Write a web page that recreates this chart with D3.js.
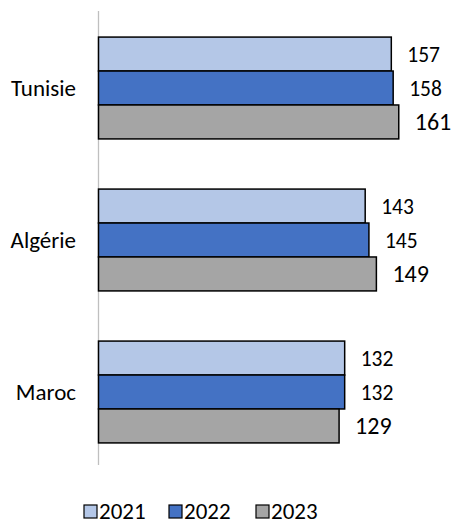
<!DOCTYPE html><html><head><meta charset="UTF-8"><script src="https://d3js.org/d3.v7.min.js"></script><style>
            body { margin: 0; background: #fff; }
            #chart { width: 457px; height: 524px; font-family: Calibri, Carlito, Lato, sans-serif; }
        </style></head><body><div id="chart"></div><script>
            const categories = ["Tunisie", "Algérie", "Maroc"];
            const series = ["2021", "2022", "2023"];
            const values2021 = [157, 143, 132];
            const values2022 = [158, 145, 132];
            const values2023 = [161, 149, 129];
            const colors = ["#b4c7e7", "#4472c4", "#a5a5a5"];

            const allValues = [values2021, values2022, values2023];
            const rows = categories.map((c, i) => ({
                cat: c,
                vals: series.map((s, j) => ({ key: s, idx: j, value: allValues[j][i] }))
            }));

            const svg = d3.select('#chart')
                .append('svg')
                .attr('width', 457)
                .attr('height', 524);

            const x = d3.scaleLinear().domain([0, 100]).range([98.5, 285]);
            const y = d3.scaleBand().domain(categories).range([12, 468])
                .paddingInner(0.33).paddingOuter(0.165);
            const ySub = d3.scaleBand().domain(series).range([0, y.bandwidth()]);

            // vertical axis line
            svg.append('line')
                .attr('x1', x(0)).attr('x2', x(0))
                .attr('y1', 11).attr('y2', 465)
                .attr('stroke', '#bfbfbf').attr('stroke-width', 1.3);

            const groups = svg.selectAll('.grp')
                .data(rows)
                .enter().append('g')
                .attr('class', 'grp')
                .attr('transform', d => `translate(0,${y(d.cat)})`);

            groups.selectAll('rect')
                .data(d => d.vals)
                .enter().append('rect')
                .attr('x', x(0))
                .attr('y', d => ySub(d.key))
                .attr('width', d => x(d.value) - x(0))
                .attr('height', ySub.bandwidth())
                .attr('fill', d => colors[d.idx])
                .attr('stroke', '#000')
                .attr('stroke-width', 1.5);

            groups.selectAll('text.val')
                .data(d => d.vals)
                .enter().append('text')
                .attr('class', 'val')
                .attr('x', d => x(d.value) + 16)
                .attr('y', d => ySub(d.key) + ySub.bandwidth() / 2)
                .attr('dy', '0.35em')
                .attr('font-size', d => d.idx === 2 ? 24 : 21.5)
                .attr('fill', '#000')
                .text(d => d.value);

            groups.append('text')
                .attr('x', 76)
                .attr('y', y.bandwidth() / 2)
                .attr('dy', '0.35em')
                .attr('text-anchor', 'end')
                .attr('font-size', 23)
                .text(d => d.cat);

            // legend
            const legendX = [84, 169, 256];
            const legend = svg.selectAll('.leg')
                .data(series)
                .enter().append('g')
                .attr('class', 'leg')
                .attr('transform', (d, i) => `translate(${legendX[i]},505)`);
            legend.append('rect')
                .attr('width', 13).attr('height', 13)
                .attr('fill', (d, i) => colors[i])
                .attr('stroke', '#000').attr('stroke-width', 1.2);
            legend.append('text')
                .attr('x', 15).attr('y', 13.5)
                .attr('font-size', 23)
                .text(d => d);
        </script></body></html>
